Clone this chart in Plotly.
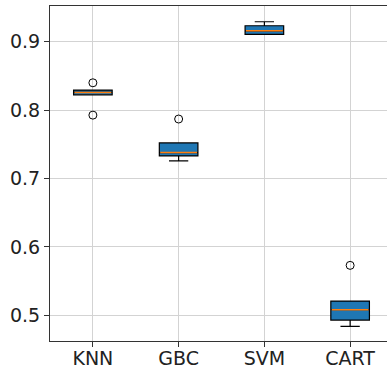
import plotly.graph_objects as go

models = ["KNN", "GBC", "SVM", "CART"]
positions = [1, 2, 3, 4]
q1 = [0.8224, 0.733, 0.9108, 0.493]
median = [0.8259, 0.738, 0.916, 0.5082]
q3 = [0.8293, 0.752, 0.9234, 0.5208]
lower_whisker = [0.8224, 0.7258, 0.9108, 0.4838]
upper_whisker = [0.8293, 0.752, 0.9293, 0.5208]
outlier_x = [1, 1, 2, 4]
outlier_y = [0.840, 0.7927, 0.787, 0.573]
y_ticks = [0.5, 0.6, 0.7, 0.8, 0.9]

BOX_W = 0.45
FONT = "DejaVu Sans"

fig = go.Figure()
fig.add_trace(go.Box(
    x=positions, q1=q1, median=median, q3=q3,
    lowerfence=lower_whisker, upperfence=upper_whisker,
    width=BOX_W, whiskerwidth=0.5,
    fillcolor="#1f77b4", line=dict(color="black", width=1.2),
    boxpoints=False, showlegend=False, hoverinfo="skip",
))

# orange median lines
mx, my = [], []
for p, m in zip(positions, median):
    mx += [p - BOX_W / 2 + 0.01, p + BOX_W / 2 - 0.01, None]
    my += [m, m, None]
fig.add_trace(go.Scatter(x=mx, y=my, mode="lines",
                         line=dict(color="#ff7f0e", width=1.5),
                         showlegend=False, hoverinfo="skip"))

fig.add_trace(go.Scatter(x=outlier_x, y=outlier_y, mode="markers",
                         marker=dict(symbol="circle-open", size=8,
                                     color="black", line=dict(width=1)),
                         showlegend=False, hoverinfo="skip"))

fig.update_layout(
    width=387, height=369,
    margin=dict(l=50, r=0, t=6, b=28),
    plot_bgcolor="white", paper_bgcolor="white",
    font=dict(family=FONT, size=19, color="#222222"),
    xaxis=dict(range=[0.5, 4.43], tickmode="array", tickvals=positions,
               ticktext=models, showgrid=True, gridcolor="#d3d3d3",
               gridwidth=1, zeroline=False, showline=True, linecolor="#333333",
               linewidth=1, mirror=True, ticks="outside", ticklen=5,
               tickcolor="#333333", automargin=False, ticklabelstandoff=-5),
    yaxis=dict(range=[0.4624, 0.9523], tickmode="array", tickvals=y_ticks,
               ticktext=[f"{v:.1f}" for v in y_ticks], showgrid=True,
               gridcolor="#d3d3d3", gridwidth=1, zeroline=False,
               showline=True, linecolor="#333333", linewidth=1,
               mirror=False, ticks="outside", ticklen=5, tickcolor="#333333",
               automargin=False),
)

fig.write_html("out.html", config={"displayModeBar": False},
               post_script="document.body.style.margin='0';document.body.style.overflow='hidden';")
